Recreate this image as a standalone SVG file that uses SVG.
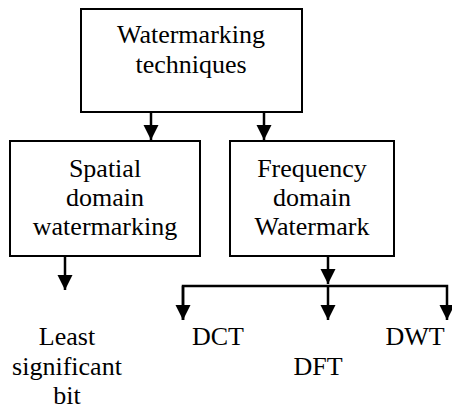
<svg xmlns="http://www.w3.org/2000/svg" width="452" height="409" viewBox="0 0 452 409">
<defs>
<marker id="ah" markerUnits="userSpaceOnUse" markerWidth="16" markerHeight="16" viewBox="0 0 16 16" refX="15" refY="8" orient="auto">
<path d="M0,0.5 L15,8 L0,15.5 Z" fill="#000"/>
</marker>
</defs>
<g id="n-root">
<rect fill="#fff" stroke="#000" stroke-width="2" x="81" y="9" width="221" height="103"/>
<text style="font-family:'Liberation Serif',serif;font-size:26px" text-anchor="middle" x="191" y="43">Watermarking</text>
<text style="font-family:'Liberation Serif',serif;font-size:26px" text-anchor="middle" x="191" y="73">techniques</text>
</g>
<g id="n-spatial">
<rect fill="#fff" stroke="#000" stroke-width="2" x="10" y="141" width="190" height="115"/>
<text style="font-family:'Liberation Serif',serif;font-size:26px" text-anchor="middle" x="105" y="177">Spatial</text>
<text style="font-family:'Liberation Serif',serif;font-size:26px" text-anchor="middle" x="105" y="206">domain</text>
<text style="font-family:'Liberation Serif',serif;font-size:26px" text-anchor="middle" x="105" y="235">watermarking</text>
</g>
<g id="n-frequency">
<rect fill="#fff" stroke="#000" stroke-width="2" x="230" y="141" width="164" height="115"/>
<text style="font-family:'Liberation Serif',serif;font-size:26px" text-anchor="middle" x="312" y="177">Frequency</text>
<text style="font-family:'Liberation Serif',serif;font-size:26px" text-anchor="middle" x="312" y="206">domain</text>
<text style="font-family:'Liberation Serif',serif;font-size:26px" text-anchor="middle" x="312" y="235">Watermark</text>
</g>
<g id="n-lsb">
<text style="font-family:'Liberation Serif',serif;font-size:26px" text-anchor="middle" x="67" y="345">Least</text>
<text style="font-family:'Liberation Serif',serif;font-size:26px" text-anchor="middle" x="67" y="375">significant</text>
<text style="font-family:'Liberation Serif',serif;font-size:26px" text-anchor="middle" x="67" y="404">bit</text>
</g>
<g id="n-dct"><text style="font-family:'Liberation Serif',serif;font-size:26px" text-anchor="middle" x="218" y="345">DCT</text></g>
<g id="n-dft"><text style="font-family:'Liberation Serif',serif;font-size:26px" text-anchor="middle" x="318" y="375">DFT</text></g>
<g id="n-dwt"><text style="font-family:'Liberation Serif',serif;font-size:26px" text-anchor="middle" x="415" y="345">DWT</text></g>
<g id="connectors" fill="none" stroke="#000" stroke-width="2.5">
<line x1="151" y1="112" x2="151" y2="140" marker-end="url(#ah)"/>
<line x1="264" y1="112" x2="264" y2="140" marker-end="url(#ah)"/>
<line x1="65" y1="256" x2="65" y2="290" marker-end="url(#ah)"/>
<line x1="328" y1="256" x2="328" y2="284" marker-end="url(#ah)"/>
<polyline points="183,320 183,286 447,286 447,320" marker-end="url(#ah)"/>
<line x1="183" y1="286" x2="183" y2="320" marker-end="url(#ah)"/>
<line x1="328" y1="286" x2="328" y2="320" marker-end="url(#ah)"/>
</g>
</svg>
